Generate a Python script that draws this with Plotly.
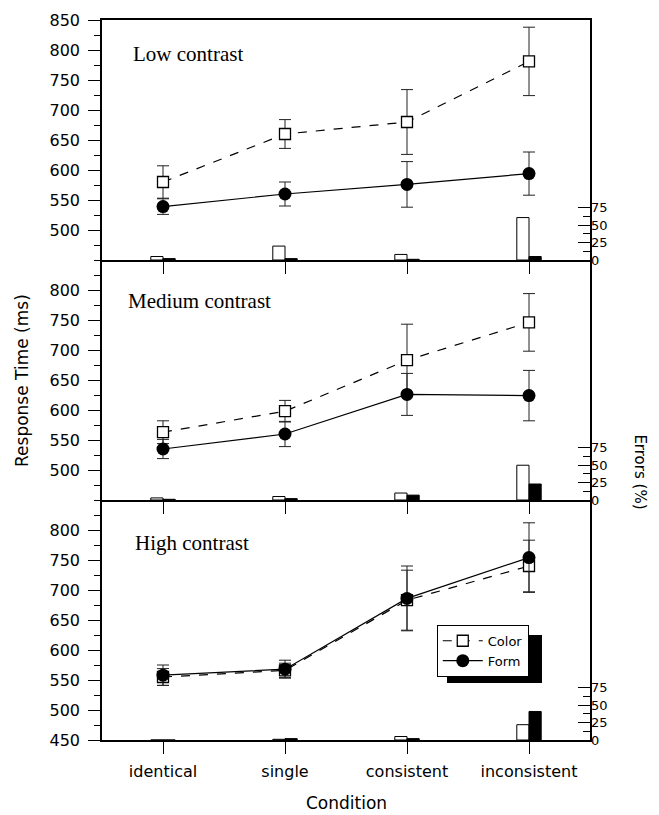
import plotly.graph_objects as go

categories = ["identical", "single", "consistent", "inconsistent"]
panel_names = ["Low contrast", "Medium contrast", "High contrast"]

# Response times (ms) and error bar half-widths
low_color_rt = [580, 660, 680, 781]
low_color_sd = [27, 24, 54, 57]
low_form_rt = [539, 560, 576, 594]
low_form_sd = [13, 20, 38, 36]

med_color_rt = [563, 598, 683, 746]
med_color_sd = [19, 18, 60, 48]
med_form_rt = [535, 560, 626, 624]
med_form_sd = [16, 21, 35, 42]

high_color_rt = [555, 566, 683, 740]
high_color_sd = [14, 12, 50, 43]
high_form_rt = [558, 568, 686, 754]
high_form_sd = [17, 15, 54, 58]

# Error percentages
low_color_pe = [5, 20, 8, 61]
low_form_pe = [2, 2, 1, 5]
med_color_pe = [3, 5, 10, 50]
med_form_pe = [1, 2, 7, 23]
high_color_pe = [0, 1, 5, 22]
high_form_pe = [0, 2, 2, 41]

rt_ticks = [[500, 550, 600, 650, 700, 750, 800, 850],
            [500, 550, 600, 650, 700, 750, 800],
            [450, 500, 550, 600, 650, 700, 750, 800]]
err_ticks = [0, 25, 50, 75]

data = [
    (low_color_rt, low_color_sd, low_form_rt, low_form_sd, low_color_pe, low_form_pe),
    (med_color_rt, med_color_sd, med_form_rt, med_form_sd, med_color_pe, med_form_pe),
    (high_color_rt, high_color_sd, high_form_rt, high_form_sd, high_color_pe, high_form_pe),
]

SANS = "DejaVu Sans"
SERIF = "Liberation Serif"
domains = [[2/3, 1], [1/3, 2/3], [0, 1/3]]
label_xpos = [0.059, 0.050, 0.063]
label_ypos = [0.86, 0.83, 0.82]

fig = go.Figure()
layout = {}
annotations = []

for i, (crt, csd, frt, fsd, cpe, fpe) in enumerate(data):
    k = i + 1
    xname = "x" if k == 1 else f"x{k}"
    yrt = "y" if k == 1 else f"y{2*k-1}"
    yer = f"y{2*k}"
    xkey = "xaxis" if k == 1 else f"xaxis{k}"
    yrtkey = "yaxis" if k == 1 else f"yaxis{2*k-1}"
    yerkey = f"yaxis{2*k}"

    # error percentages as bars
    fig.add_trace(go.Bar(x=categories, y=cpe, xaxis=xname, yaxis=yer,
                         width=0.1, offset=-0.1,
                         marker=dict(color="white", line=dict(color="black", width=1)),
                         showlegend=False, hoverinfo="skip"))
    fig.add_trace(go.Bar(x=categories, y=fpe, xaxis=xname, yaxis=yer,
                         width=0.1, offset=0.0,
                         marker=dict(color="black", line=dict(color="black", width=1)),
                         showlegend=False, hoverinfo="skip"))

    fig.add_trace(go.Scatter(x=categories, y=crt, xaxis=xname, yaxis=yrt,
                             mode="lines+markers", name="Color",
                             showlegend=(k == 3), legendrank=1,
                             line=dict(color="black", width=1.2, dash="dash"),
                             marker=dict(symbol="square", size=11, color="white",
                                         line=dict(color="black", width=1.3)),
                             error_y=dict(type="data", array=csd, color="#222",
                                          thickness=1, width=6)))
    fig.add_trace(go.Scatter(x=categories, y=frt, xaxis=xname, yaxis=yrt,
                             mode="lines+markers", name="Form",
                             showlegend=(k == 3), legendrank=2,
                             line=dict(color="black", width=1.2),
                             marker=dict(symbol="circle", size=13, color="black"),
                             error_y=dict(type="data", array=fsd, color="#222",
                                          thickness=1, width=6)))

    layout[xkey] = dict(domain=[0, 1], anchor=yrt, type="category",
                        categoryorder="array", categoryarray=categories,
                        range=[-0.5, 3.5], showline=True, mirror=(k == 1),
                        linecolor="black", linewidth=1.5, ticks="outside",
                        ticklen=12, tickwidth=1.3, tickcolor="black",
                        showgrid=False, zeroline=False, automargin=False,
                        showticklabels=(k == 3), ticklabelstandoff=4,
                        tickfont=dict(family=SANS, size=16, color="black"))
    if k != 3:
        layout[xkey]["matches"] = "x3"

    layout[yrtkey] = dict(domain=domains[i], anchor=xname, range=[450, 850],
                          tickmode="array", tickvals=rt_ticks[i],
                          showline=True, mirror=True, linecolor="black",
                          linewidth=1.5, ticks="outside", ticklen=12,
                          tickwidth=1.3, tickcolor="black",
                          ticklabelstandoff=5, automargin=False,
                          minor=dict(tickmode="linear", tick0=450, dtick=25,
                                     ticks="outside", ticklen=6, tickcolor="black",
                                     tickwidth=1.2),
                          showgrid=False, zeroline=False,
                          tickfont=dict(family=SANS, size=16, color="black"))
    layout[yerkey] = dict(overlaying=yrt, anchor=xname, side="right",
                          range=[0, 345], tickmode="array", tickvals=err_ticks,
                          ticks="inside", ticklen=12, tickwidth=1.3,
                          tickcolor="black", automargin=False,
                          minor=dict(tickmode="array", tickvals=[12.5, 37.5, 62.5],
                                     ticks="inside", ticklen=7, tickcolor="black",
                                     tickwidth=1.2),
                          showline=False, showgrid=False, zeroline=False,
                          tickfont=dict(family=SANS, size=13, color="black"))

    annotations.append(dict(text=panel_names[i], xref=f"{xname} domain",
                            yref=f"{yrt} domain", x=label_xpos[i], y=label_ypos[i],
                            xanchor="left", yanchor="middle", showarrow=False,
                            font=dict(family=SERIF, size=21, color="black")))

annotations.append(dict(text="Response Time (ms)", xref="paper", yref="paper",
                        x=-0.164, y=0.5, textangle=-90, showarrow=False,
                        xanchor="center", yanchor="middle",
                        font=dict(family=SANS, size=17, color="black")))
annotations.append(dict(text="Errors (%)", xref="paper", yref="y4",
                        x=1.102, y=40, textangle=90, showarrow=False,
                        xanchor="center", yanchor="middle",
                        font=dict(family=SANS, size=15, color="black")))
annotations.append(dict(text="Condition", xref="paper", yref="paper",
                        x=0.5, y=-0.0875, showarrow=False,
                        xanchor="center", yanchor="middle",
                        font=dict(family=SANS, size=17, color="black")))

shapes = [dict(type="rect", xref="paper", yref="paper",
               x0=0.707, x1=0.9016, y0=0.079, y1=0.146,
               fillcolor="black", line=dict(width=0), layer="above")]

# the page body adds an 8px offset, so the figure is 8px smaller on each axis
fig.update_layout(
    width=651, height=807,
    margin=dict(l=94, r=69, t=12, b=75, autoexpand=False),
    paper_bgcolor="white", plot_bgcolor="white",
    barmode="overlay",
    annotations=annotations, shapes=shapes,
    legend=dict(x=0.686, y=0.16, xanchor="left", yanchor="top",
                bgcolor="white", bordercolor="black", borderwidth=1,
                font=dict(family=SANS, size=13, color="black"),
                traceorder="normal", itemwidth=40,
                tracegroupgap=0),
    **layout,
)

fig.write_html("out.html")
